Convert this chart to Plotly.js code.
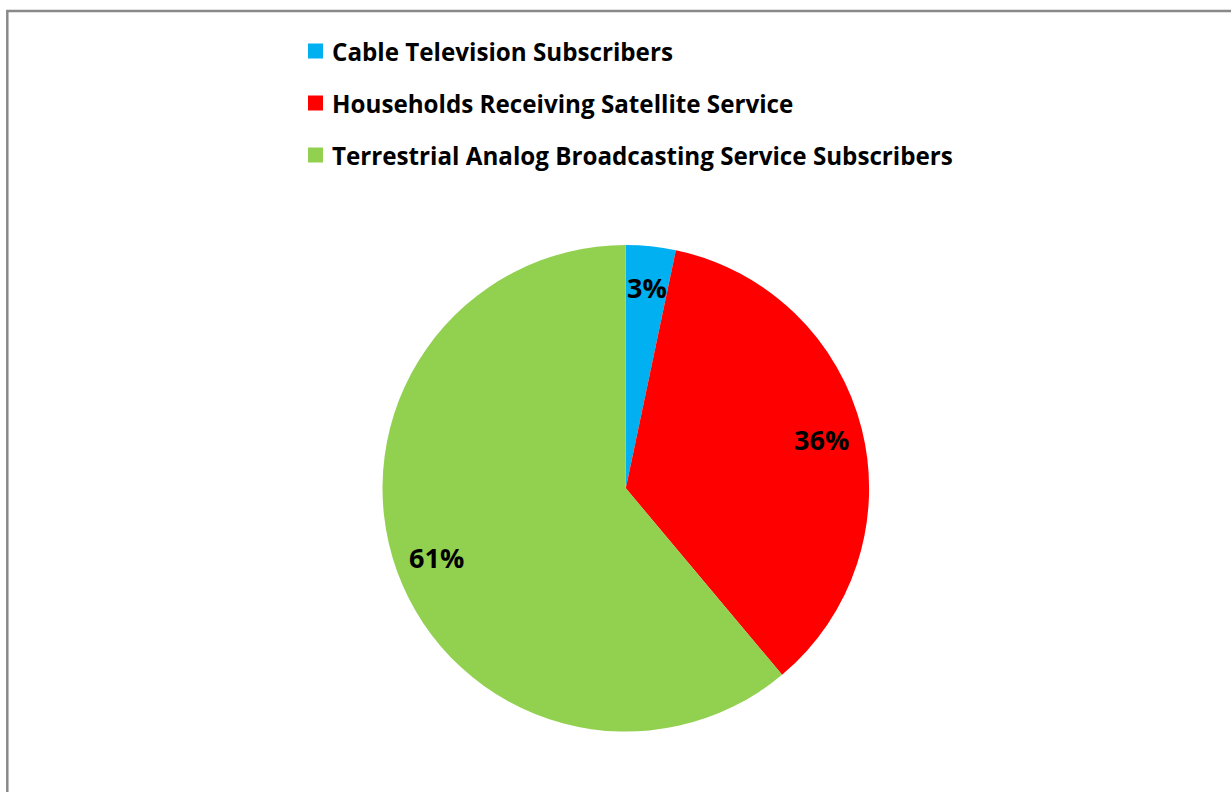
<!DOCTYPE html>
<html>
<head>
<meta charset="utf-8">
<script src="https://cdn.plot.ly/plotly-3.0.1.min.js"></script>
<style>
  html, body { margin: 0; padding: 0; background: #ffffff; }
  #chart { width: 1231px; height: 792px; }
</style>
</head>
<body>
<div id="chart"></div>
<script>
// ---- data ----
const categories = [
  "Cable Television Subscribers",
  "Households Receiving Satellite Service",
  "Terrestrial Analog Broadcasting Service Subscribers"
];
const shares = [3.3, 35.6, 61.1];
const colors = ["#00B0F0", "#FF0000", "#92D050"];

// ---- layout constants (pixels) ----
const W = 1231, H = 792;
const cx = 625.8, cy = 488.3, R = 243.3;
const labelRadiusFrac = 0.83;
const legendX = 308, legendTextX = 330, legendRowY = [51, 103, 155], keySize = 15;
const FONT = "'Open Sans', sans-serif";

const px = x => x / W;
const py = y => 1 - y / H;

const total = shares.reduce((a, b) => a + b, 0);

// percentage labels placed at slice mid-angles (computed from the data)
const annotations = [];
let cum = 0;
shares.forEach((v, i) => {
  const mid = (cum + v / 2) / total * 2 * Math.PI; // clockwise from 12 o'clock
  cum += v;
  const lx = cx + labelRadiusFrac * R * Math.sin(mid);
  const ly = cy - labelRadiusFrac * R * Math.cos(mid);
  annotations.push({
    x: px(lx), y: py(ly), xref: "paper", yref: "paper",
    xanchor: "center", yanchor: "middle", showarrow: false,
    text: Math.round(v / total * 100) + "%",
    font: { family: FONT, size: 27, color: "#000000", weight: "bold" }
  });
});

// legend (custom, to match spacing)
const shapes = [];
categories.forEach((c, i) => {
  const yc = legendRowY[i];
  shapes.push({
    type: "rect", xref: "paper", yref: "paper",
    x0: px(legendX), x1: px(legendX + keySize),
    y0: py(yc + keySize / 2), y1: py(yc - keySize / 2),
    fillcolor: colors[i], line: { width: 0 }
  });
  annotations.push({
    x: px(legendTextX), y: py(yc), xref: "paper", yref: "paper",
    xanchor: "left", yanchor: "middle", showarrow: false,
    text: c,
    font: { family: FONT, size: 24.2, color: "#000000", weight: "bold" }
  });
});

// chart-area frame (left and top edges visible)
shapes.push({
  type: "path", xref: "paper", yref: "paper",
  path: "M " + px(7.3) + " -0.05 L " + px(7.3) + " " + py(11) + " L 1.05 " + py(11),
  line: { color: "#898989", width: 2.5 }
});

const trace = {
  type: "pie",
  labels: categories,
  values: shares,
  marker: { colors: colors, line: { width: 0 } },
  sort: false,
  direction: "clockwise",
  rotation: 0,
  textinfo: "none",
  hoverinfo: "label+percent",
  showlegend: false,
  domain: { x: [px(cx - R), px(cx + R)], y: [py(cy + R), py(cy - R)] }
};

const layout = {
  width: W, height: H,
  margin: { l: 0, r: 0, t: 0, b: 0 },
  paper_bgcolor: "#ffffff",
  plot_bgcolor: "#ffffff",
  showlegend: false,
  annotations: annotations,
  shapes: shapes
};

Plotly.newPlot("chart", [trace], layout, { displayModeBar: false, staticPlot: true });
</script>
</body>
</html>
